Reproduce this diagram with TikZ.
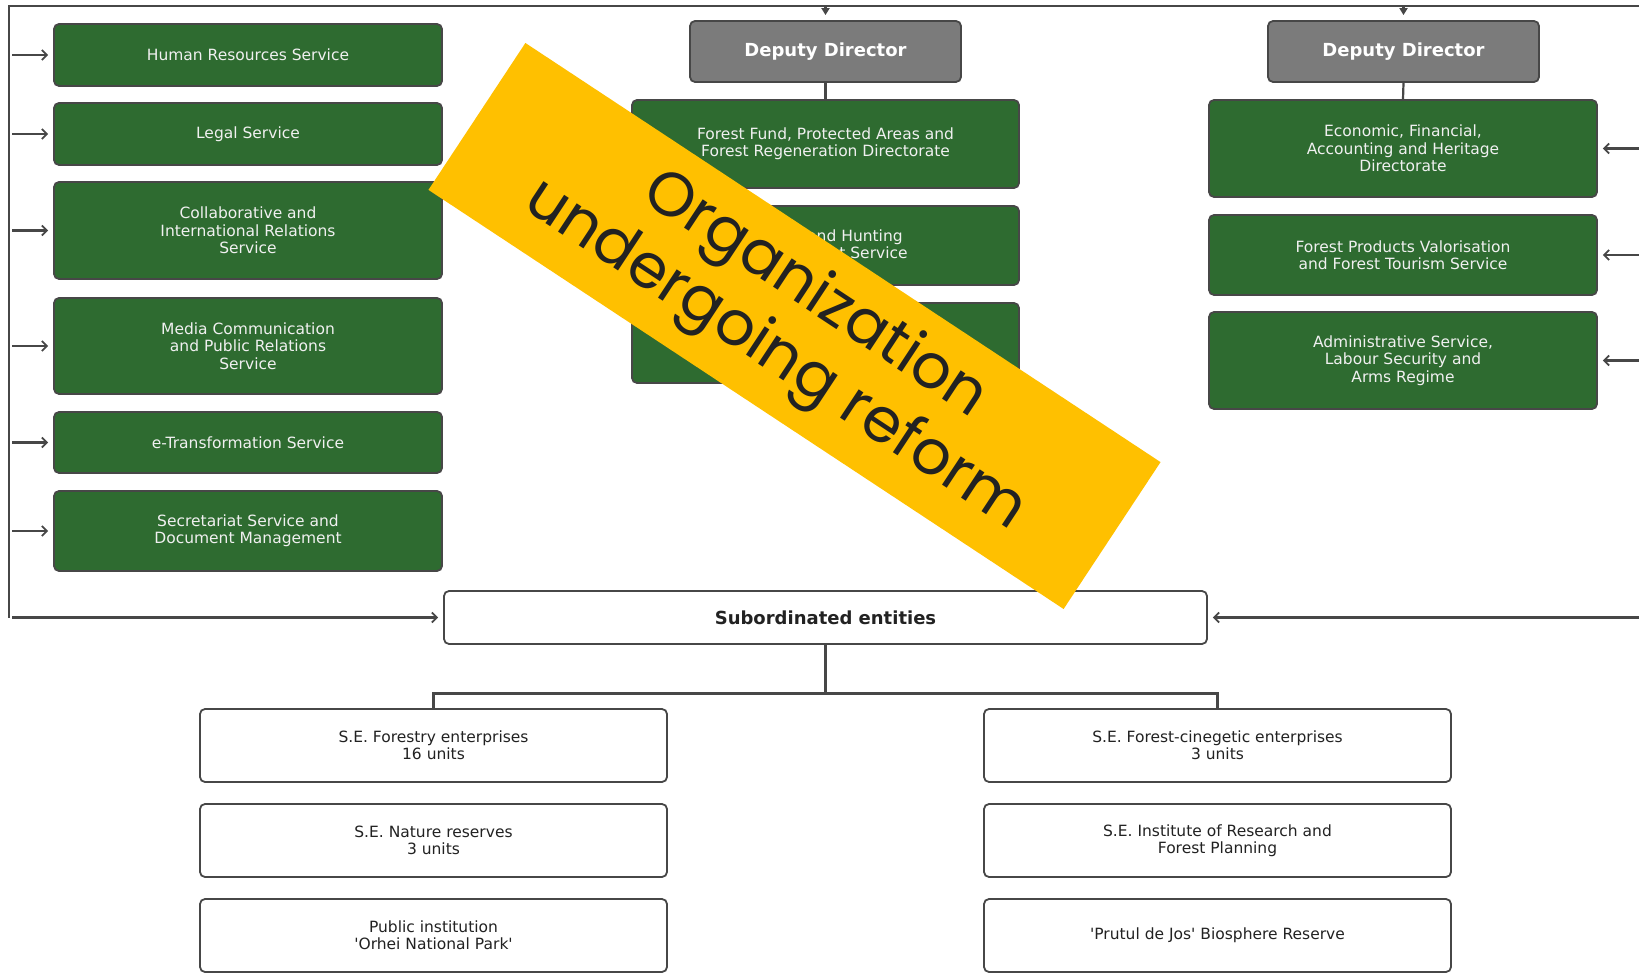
\documentclass[tikz,border=0pt]{standalone}
\usepackage{fontspec}
\setmainfont{DejaVu Sans}
\newfontfamily\bannerfont{Poppins}
\usetikzlibrary{arrows.meta}
\definecolor{boxgreen}{HTML}{2E6B30}
\definecolor{ddgray}{HTML}{7B7B7B}
\definecolor{edge}{HTML}{474747}
\definecolor{bannerc}{HTML}{FFC000}
\definecolor{txtlight}{HTML}{F0F0F0}
\definecolor{txtdark}{HTML}{222222}
\newcommand\sq{\XeTeXglyph\XeTeXcharglyph"27\relax}
\begin{document}
\begin{tikzpicture}[x=1pt,y=-1pt,
  base/.style={draw=edge, line width=1.8pt, rounded corners=5pt, inner sep=0pt, align=center},
  gbox/.style={base, fill=boxgreen, text=txtlight, font=\fontsize{15.5}{17.3}\selectfont},
  dbox/.style={base, fill=ddgray, text=white, font=\bfseries\fontsize{18}{21}\selectfont, minimum width=271pt, minimum height=61pt},
  wbox/.style={base, fill=white, text=txtdark, font=\fontsize{15.5}{17.3}\selectfont},
  lbox/.style={gbox, minimum width=388pt},
  mbox/.style={gbox, minimum width=387pt},
  bbox/.style={wbox, minimum width=467pt, minimum height=73pt},
  conn/.style={draw=edge, line width=2.2pt},
  arr/.style={conn, -{Straight Barb[length=5pt,width=10pt,line width=1.8pt]}, shorten >=5pt},
  darr/.style={conn, -{Triangle[length=7pt,width=8pt]}, shorten >=5pt}
]
\useasboundingbox (0,0) rectangle (1639,973);
\fill[white] (0,0) rectangle (1639,973);

% frame coordinates
\coordinate (tl) at (9,6);
\coordinate (tr) at (1639,6);
\coordinate (bl) at (9,617.5);
\coordinate (br) at (1639,617.5);

% left column
\node[lbox, minimum height=62pt] (hr) at (248,55) {Human Resources Service};
\node[lbox, minimum height=62pt] (legal) at (248,134) {Legal Service};
\node[lbox, minimum height=97pt] (collab) at (248,230.5) {Collaborative and\\International Relations\\Service};
\node[lbox, minimum height=96pt] (media) at (248,346) {Media Communication\\and Public Relations\\Service};
\node[lbox, minimum height=61pt] (etr) at (248,442.5) {e-Transformation Service};
\node[lbox, minimum height=80pt] (secr) at (248,531) {Secretariat Service and\\Document Management};

% middle column
\node[dbox] (dd1) at (825.5,51.5) {Deputy Director};
\node[mbox, minimum height=88pt] (m1) at (825.5,144) {Forest Fund, Protected Areas and\\Forest Regeneration Directorate};
\node[mbox, minimum height=79pt] (m2) at (825.5,245.5) {Fishing and Hunting\\Management Service};
\node[mbox, minimum height=80pt] (m3) at (825.5,343) {};

% right column
\node[dbox] (dd2) at (1403.5,51.5) {Deputy Director};
\node[lbox, minimum height=97pt] (r1) at (1403,148.5) {Economic, Financial,\\Accounting and Heritage\\Directorate};
\node[lbox, minimum height=80pt] (r2) at (1403,255) {Forest Products Valorisation\\and Forest Tourism Service};
\node[lbox, minimum height=97pt] (r3) at (1403,360.5) {Administrative Service,\\Labour Security and\\Arms Regime};

% subordinated
\node[wbox, font=\bfseries\fontsize{18}{21}\selectfont, minimum width=763pt, minimum height=53pt] (sub) at (825.5,617.5) {Subordinated entities};

\node[bbox] (b1) at (433.5,745.5) {S.E. Forestry enterprises\\16 units};
\node[bbox] (b2) at (433.5,840.5) {S.E. Nature reserves\\3 units};
\node[bbox] (b3) at (433.5,935.5) {Public institution\\\sq Orhei National Park\sq};
\node[bbox] (c1) at (1217.5,745.5) {S.E. Forest-cinegetic enterprises\\3 units};
\node[bbox] (c2) at (1217.5,840.5) {S.E. Institute of Research and\\Forest Planning};
\node[bbox] (c3) at (1217.5,935.5) {\sq Prutul de Jos\sq\ Biosphere Reserve};

% frame lines
\draw[conn] (bl) -- (tl) -- (tr);

% arrows from left frame
\foreach \n in {hr,legal,collab,media,etr,secr}
  \draw[arr, shorten <=3pt] (tl |- \n.west) -- (\n.west);
% arrows from right frame
\foreach \n in {r1,r2,r3}
  \draw[arr] (tr |- \n.east) -- (\n.east);
% arrows to subordinated
\draw[arr, shorten <=3pt] (bl) -- (sub.west);
\draw[arr] (br) -- (sub.east);

% deputy directors
\draw[darr] (tl -| dd1.north) -- (dd1.north);
\draw[darr] (tl -| dd2.north) -- (dd2.north);
\draw[conn] (dd1.south) -- (m1.north);
\draw[conn] (dd2.south) -- (r1.north);

% subordinated tree
\coordinate (jn) at (825.5,693.5);
\draw[conn] (sub.south) -- (jn);
\draw[conn] (b1.north) |- (jn) -| (c1.north);

% banner
\node[fill=bannerc, minimum width=761pt, minimum height=176pt, inner sep=0pt,
      rotate=-33.42, text=txtdark, align=center,
      font=\bannerfont\fontsize{62}{72}\selectfont] (ban) at (794.5,326)
      {Organization\\undergoing reform};
\end{tikzpicture}
\end{document}
